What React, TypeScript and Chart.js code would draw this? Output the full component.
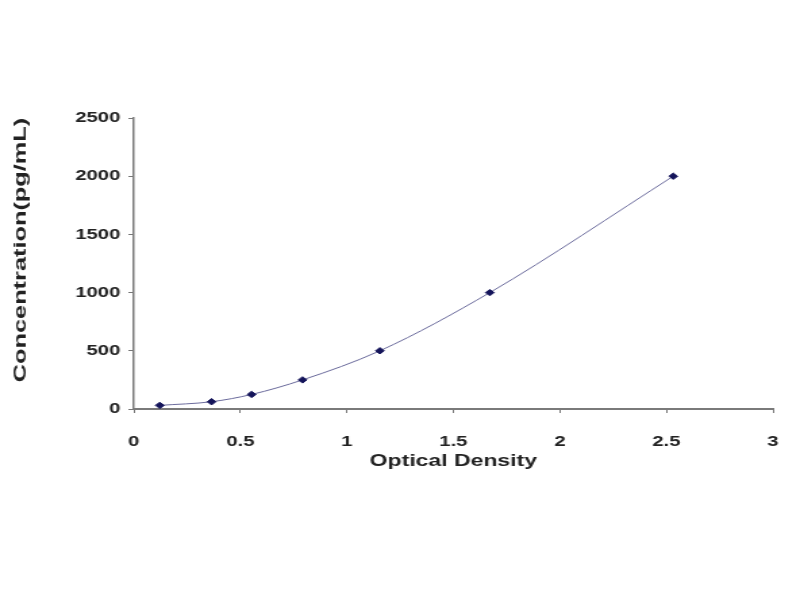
import { useEffect, useRef } from "react";
import { Chart, registerables } from "chart.js";

Chart.register(...registerables);

// standard curve: optical density vs concentration
const opticalDensity = [0.122, 0.365, 0.553, 0.792, 1.155, 1.671, 2.532];
const concentration = [31.25, 62.5, 125, 250, 500, 1000, 2000];

const xRange = [0, 3];
const yRange = [0, 2500];
const xStep = 0.5;
const yStep = 500;

const xTitle = "Optical Density";
const yTitle = "Concentration(pg/mL)";

// the reference picture is stretched sideways, so the canvas is drawn narrow and widened by CSS
const W = 592;
const H = 600;
const SX = 800 / W;

const FONT = '"Liberation Sans", Arial, sans-serif';

// y title is drawn by hand so it can be squeezed like in the picture
const yTitlePlugin = {
  id: "yTitle",
  afterDraw(chart: any) {
    const ctx = chart.ctx;
    ctx.save();
    ctx.translate(20.5 / SX, 250);
    ctx.rotate(-Math.PI / 2);
    ctx.scale(1.49, 0.72);
    ctx.font = `bold 17px ${FONT}`;
    ctx.fillStyle = "#222";
    ctx.textAlign = "center";
    ctx.textBaseline = "middle";
    ctx.fillText(yTitle, 0, 0);
    ctx.restore();
  },
};

export default function App() {
  const ref = useRef<HTMLCanvasElement | null>(null);

  useEffect(() => {
    document.body.style.margin = "0";
    if (!ref.current) return;

    const chart = new Chart(ref.current, {
      type: "scatter",
      data: {
        datasets: [
          {
            data: opticalDensity.map((x, i) => ({ x, y: concentration[i] })),
            showLine: true,
            cubicInterpolationMode: "monotone",
            borderColor: "#6b6b9c",
            borderWidth: 1,
            pointStyle: "rectRot",
            pointRadius: 3.2,
            pointBackgroundColor: "#14145a",
            pointBorderColor: "#14145a",
          },
        ],
      },
      options: {
        responsive: false,
        animation: false,
        layout: { padding: { top: 118, right: 20, bottom: 0, left: 0 } },
        plugins: { legend: { display: false }, tooltip: { enabled: false } },
        scales: {
          x: {
            type: "linear",
            min: xRange[0],
            max: xRange[1],
            afterFit: (s: any) => {
              s.height = H - 409;
              s.paddingRight = 0;
              s.paddingLeft = 0;
            },
            ticks: {
              stepSize: xStep,
              padding: 20,
              color: "#222",
              font: { family: FONT, size: 15, weight: "bold" },
              callback: (v: any) => String(v),
            },
            grid: { drawOnChartArea: false, tickLength: 4, color: "#777" },
            border: { color: "#7a7a7a", width: 2 },
            title: {
              display: true,
              text: xTitle,
              color: "#222",
              font: { family: FONT, size: 17, weight: "bold" },
              padding: { top: 0, bottom: 128 },
            },
          },
          y: {
            min: yRange[0],
            max: yRange[1],
            afterFit: (s: any) => { s.width = 99; },
            ticks: {
              stepSize: yStep,
              padding: 6,
              color: "#222",
              font: { family: FONT, size: 15, weight: "bold" },
              callback: (v: any) => String(v),
            },
            grid: { drawOnChartArea: false, tickLength: 4, color: "#777" },
            border: { color: "#7a7a7a", width: 1.5 },
          },
        },
      },
      plugins: [yTitlePlugin],
    });

    return () => chart.destroy();
  }, []);

  return (
    <div style={{ width: 800, height: 600, background: "#fff" }}>
      <canvas
        ref={ref}
        width={W}
        height={H}
        style={{ width: 800, height: 600, display: "block" }}
      />
    </div>
  );
}
